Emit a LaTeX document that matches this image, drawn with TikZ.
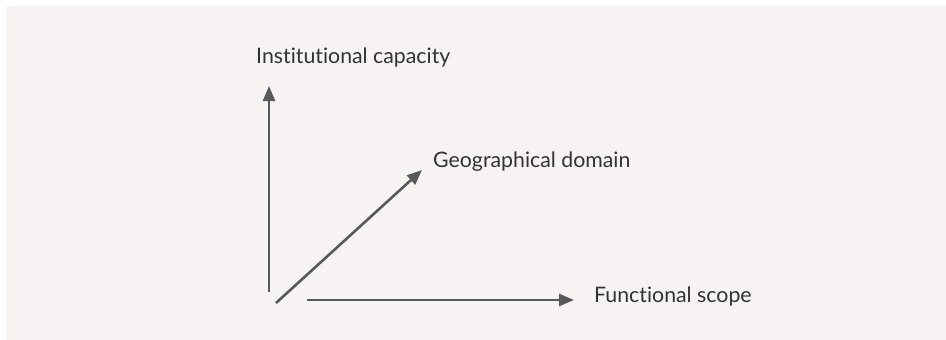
\documentclass[tikz,border=0pt]{standalone}
\usepackage{fontspec}
\setmainfont[Ligatures={NoCommon,NoRare}]{Lato}
\usepackage{tikz}
\usetikzlibrary{arrows.meta}

\definecolor{panel}{HTML}{F6F3F2}
\definecolor{axisgray}{HTML}{58595B}
\definecolor{textgray}{HTML}{333333}

\tikzset{
    axisline/.style={draw=axisgray,line width=2.6pt,-{Triangle[length=15pt,width=12pt]}},
    axislabel/.style={anchor=base west,inner sep=0pt,text=textgray,font=\fontsize{21.3}{25}\selectfont},
}

\begin{document}
\begin{tikzpicture}[x=1pt,y=-1pt]
    \useasboundingbox (0,0) rectangle (946,340);
    \fill[panel] (6,6) rectangle (946,340);

    % axis ends
    \coordinate (capfrom) at (269,292);
    \coordinate (capto) at (269,86);
    \coordinate (geofrom) at (276,303);
    \coordinate (geoto) at (422,170);
    \coordinate (funfrom) at (307,300);
    \coordinate (funto) at (574,300);

    \draw (256,63) node (capacity) [axislabel] {Institutional capacity};
    \draw (433,167) node (domain) [axislabel] {Geographical domain};
    \draw (594,302) node (scope) [axislabel] {Functional scope};

    \draw[axisline] (capfrom) -- (capto);
    \draw[axisline] (geofrom) -- (geoto);
    \draw[axisline] (funfrom) -- (funto);
\end{tikzpicture}
\end{document}
